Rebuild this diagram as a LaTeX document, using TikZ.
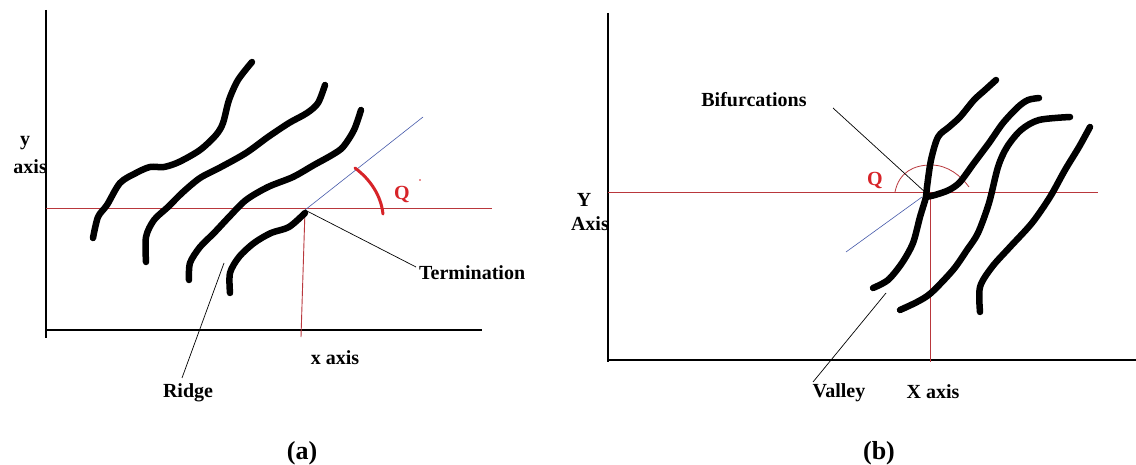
\documentclass[tikz,border=0pt]{standalone}
\usepackage{fontspec}
\setmainfont{Liberation Serif}
\begin{document}
\begin{tikzpicture}[x=1pt,y=-1pt,
  axisline/.style={line width=1.4pt,black},
  redline/.style={line width=0.9pt,color=refred},
  blueline/.style={line width=0.6pt,color=refblue},
  ridge/.style={line width=6.5pt,line cap=round,line join=round,black},
  leader/.style={line width=0.7pt,black},
  lbl/.style={font=\fontsize{20}{22}\selectfont\bfseries,inner sep=0pt},
  captxt/.style={font=\fontsize{26}{28}\selectfont\bfseries,inner sep=0pt},
  qlbl/.style={font=\fontsize{20}{22}\selectfont\bfseries,text=refredq,inner sep=0pt}]
\definecolor{refred}{RGB}{185,55,60}
\definecolor{refredq}{RGB}{215,35,40}
\definecolor{refblue}{RGB}{70,90,170}
\useasboundingbox[fill=white] (0,0) rectangle (1136,465);

% ---------- panel (a) ----------
\draw[axisline] (46,10) -- (46,338);
\draw[axisline] (46,330) -- (482,330);
\draw[redline] (46,208) -- (492,208);
\coordinate (term) at (305,210);
\draw[redline] (term) -- (301,337);
\coordinate (bluea) at (423,117);
\draw[blueline] (term) -- (bluea);
\draw[line width=3pt,color=refredq,line cap=round] (355,168) .. controls (371,180) and (381,196) .. (383,214);
\node[qlbl] (qa) at (402,195) {Q};
\fill[refredq] (420,180) circle (0.8);

\draw[ridge] plot[smooth,tension=0.5] coordinates {(93,238) (98,217) (107,205) (120,183) (136,173) (150,167) (164,167) (179,162) (200,150) (216,135) (223,123) (229,100) (238,80) (252,62)};
\draw[ridge] plot[smooth,tension=0.5] coordinates {(146,262) (146,237) (154,220) (168,207) (182,193) (200,178) (221,167) (246,153) (268,137) (289,123) (307,113) (318,103) (325,85)};
\draw[ridge] plot[smooth,tension=0.5] coordinates {(189,280) (190,263) (200,247) (214,233) (229,217) (246,200) (268,187) (293,177) (314,165) (332,155) (343,147) (354,130) (361,110)};
\draw[ridge] plot[smooth,tension=0.5] coordinates {(230,293) (230,273) (239,257) (254,243) (271,233) (289,227) (305,213)};

\node[lbl,anchor=west] (termlbl) at (419,273) {Termination};
\coordinate (termend) at (416,267);
\draw[leader] (term) -- (termend);
\node[lbl] (ridgelbl) at (188,393) {Ridge};
\coordinate (ridgeend) at (224,263);
\draw[leader] (182,378) -- (ridgeend);
\node[lbl] (xa) at (335,358) {x axis};
\node[lbl] (ya1) at (25,143) {y};
\node[lbl,anchor=east] (ya2) at (47,167) {axis};
\node[captxt] (capa) at (302,453) {(a)};

% ---------- panel (b) ----------
\draw[axisline] (608,13) -- (608,362);
\draw[axisline] (608,360) -- (1136,360);
\draw[redline] (608,192) -- (1098,192);
\coordinate (bif) at (926,193);
\draw[redline] (930,192) -- (930,362);
\coordinate (blueb) at (846,252);
\draw[blueline] (922,197) -- (blueb);
\draw[line width=0.8pt,color=refred] (895,192) .. controls (899,172) and (914,165) .. (931,165) .. controls (948,165) and (961,176) .. (969,187);
\node[qlbl] (qb) at (875,181) {Q};

\draw[ridge] plot[smooth,tension=0.5] coordinates {(873,288) (888,280) (902,263) (913,243) (920,217) (926,197) (927,187) (931,160) (938,137) (949,127) (960,117) (974,100) (985,90) (996,80)};
\draw[ridge] plot[smooth,tension=0.5] coordinates {(926,197) (935,195) (949,190) (960,182) (974,163) (989,143) (1003,123) (1018,107) (1028,100) (1039,98)};
\draw[ridge] plot[smooth,tension=0.5] coordinates {(900,310) (917,302) (931,293) (953,270) (967,250) (978,233) (989,203) (998,167) (1007,147) (1021,130) (1039,120) (1070,117)};
\draw[ridge] plot[smooth,tension=0.5] coordinates {(980,312) (980,287) (992,267) (1010,247) (1032,223) (1050,197) (1065,170) (1079,147) (1090,127)};

\node[lbl] (biflbl) at (754,100) {Bifurcations};
\draw[leader] (833,108) -- (bif);
\node[lbl] (valley) at (839,393) {Valley};
\coordinate (valleyend) at (886,293);
\draw[leader] (813,382) -- (valleyend);
\node[lbl] (xb) at (933,392) {X axis};
\node[lbl] (yb1) at (584,200) {Y};
\node[lbl,anchor=east] (yb2) at (609,224) {Axis};
\node[captxt] (capb) at (879,453) {(b)};
\end{tikzpicture}
\end{document}
